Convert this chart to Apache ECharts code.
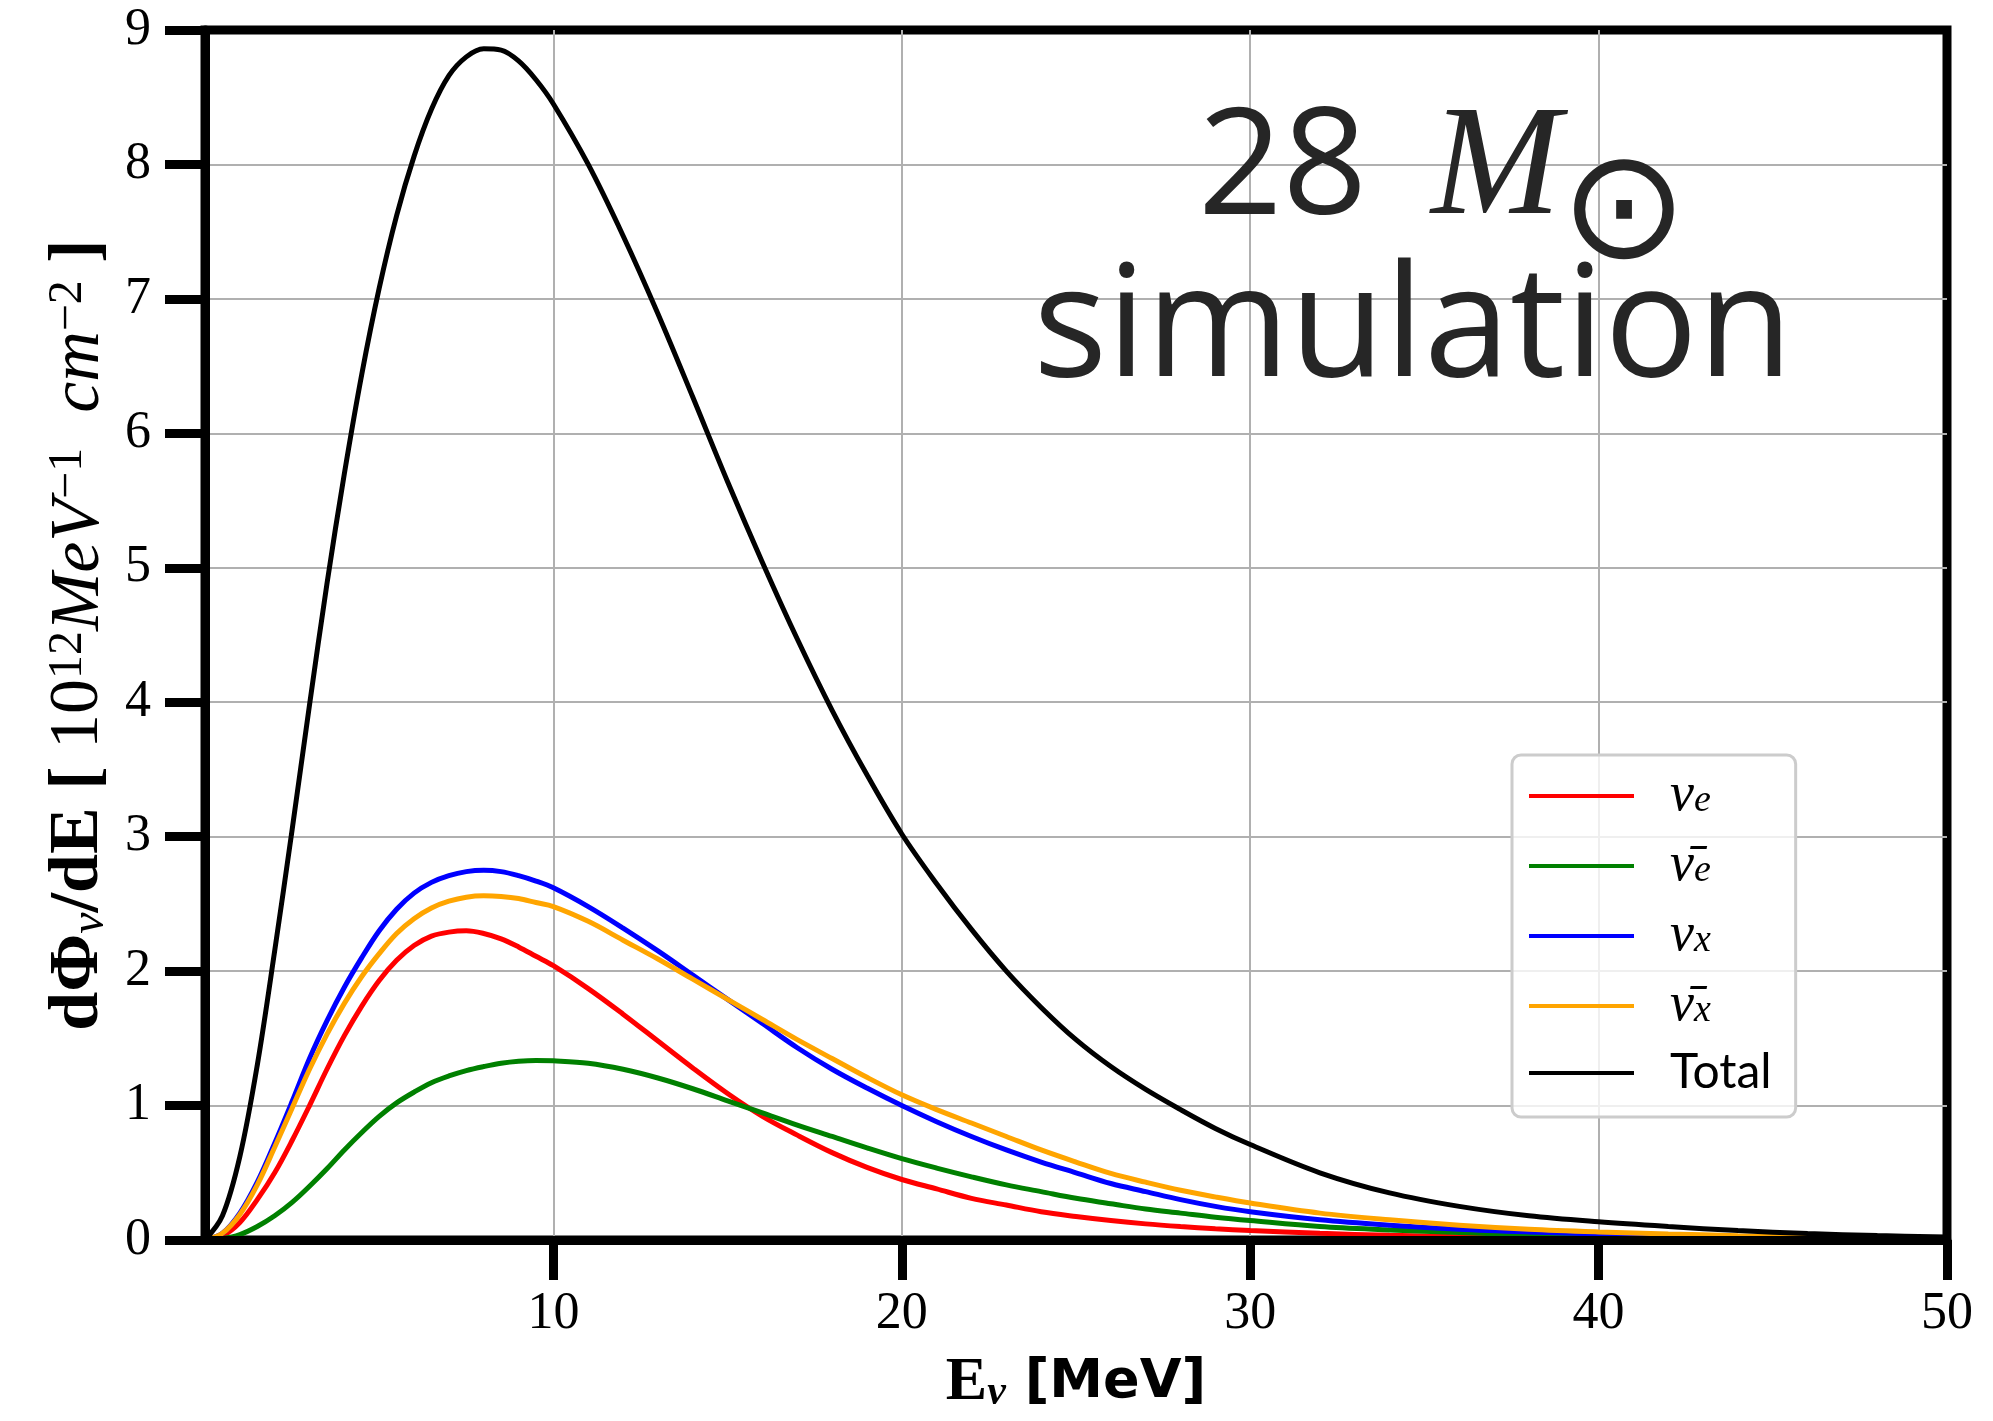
<!DOCTYPE html>
<html><head><meta charset="utf-8">
<script src="https://cdn.jsdelivr.net/npm/echarts@6/dist/echarts.min.js"></script>
<style>html,body{margin:0;padding:0;background:#fff}#c{width:1993px;height:1421px}</style>
</head><body><div id="c"></div>
<script>
// ---- data ----
const energy  = [0,0.5,1,1.5,2,2.5,3,3.5,4,4.5,5,5.5,6,6.5,7,7.5,8,8.5,9,9.5,10,
                 11,12,13,14,15,16,17,18,19,20,21,22,23,24,25,26,27,28,29,30,
                 32,34,36,38,40,42,44,46,48,50];
const nuE     = [0,0.03,0.13,0.3,0.5,0.74,1.0,1.27,1.52,1.74,1.93,2.08,2.19,2.26,2.29,2.30,2.28,2.24,2.18,2.11,2.04,
                 1.87,1.68,1.48,1.28,1.09,0.92,0.78,0.65,0.54,0.45,0.38,0.31,0.26,0.21,0.175,0.145,0.12,0.10,0.083,0.07,
                 0.05,0.035,0.025,0.017,0.012,0.008,0.005,0.003,0.002,0.001];
const nuEbar  = [0,0.01,0.04,0.1,0.18,0.28,0.4,0.53,0.67,0.8,0.92,1.02,1.1,1.17,1.22,1.26,1.29,1.315,1.33,1.336,1.333,
                 1.315,1.27,1.205,1.125,1.035,0.945,0.855,0.77,0.685,0.605,0.535,0.47,0.41,0.36,0.31,0.27,0.23,0.2,0.17,0.145,
                 0.1,0.075,0.055,0.04,0.03,0.022,0.015,0.01,0.007,0.005];
const nuX     = [0,0.05,0.2,0.43,0.72,1.03,1.35,1.63,1.88,2.1,2.3,2.46,2.58,2.66,2.71,2.74,2.75,2.74,2.71,2.67,2.62,
                 2.48,2.32,2.15,1.97,1.79,1.61,1.43,1.27,1.13,1.0,0.88,0.77,0.67,0.58,0.5,0.42,0.36,0.3,0.25,0.21,
                 0.15,0.11,0.08,0.06,0.045,0.033,0.024,0.017,0.013,0.01];
const nuXbar  = [0,0.05,0.19,0.41,0.69,0.98,1.27,1.53,1.76,1.96,2.13,2.28,2.39,2.47,2.52,2.55,2.56,2.555,2.54,2.51,2.48,
                 2.37,2.23,2.09,1.94,1.79,1.64,1.49,1.35,1.21,1.08,0.97,0.87,0.77,0.67,0.58,0.495,0.43,0.37,0.32,0.275,
                 0.2,0.15,0.11,0.08,0.06,0.045,0.032,0.022,0.015,0.01];
const total   = [0,0.18,0.62,1.3,2.15,3.05,3.98,4.88,5.7,6.44,7.08,7.62,8.06,8.41,8.66,8.8,8.86,8.85,8.77,8.63,8.45,
                 8.0,7.47,6.89,6.27,5.64,5.04,4.47,3.94,3.46,3.02,2.65,2.31,2.0,1.73,1.49,1.29,1.12,0.97,0.83,0.71,
                 0.5,0.35,0.25,0.18,0.135,0.1,0.07,0.048,0.033,0.022];

const seriesNames  = ['nu_e','nubar_e','nu_x','nubar_x','Total'];
const seriesValues = [nuE, nuEbar, nuX, nuXbar, total];
const seriesColors = ['#ff0000','#008000','#0000ff','#ffa500','#000000'];
const legendLabels = ['{v|ν}{s|e}','{v|ν̄}{s|e}','{v|ν}{s|x}','{v|ν̄}{s|x}','{t|Total}'];
const xTickValues  = [10,20,30,40,50];
const yMin = 0, yMax = 9, yStep = 1;
const xMin = 0, xMax = 50, xStep = 10;

// ---- chart ----
const serif = "'Liberation Serif','DejaVu Serif',serif";
const chart = echarts.init(document.getElementById('c'), null, {renderer:'canvas'});

const gridLine = {show:true, showMinLine:false, showMaxLine:false, lineStyle:{color:'#b0b0b0', width:2}};
const option = {
  animation:false,
  backgroundColor:'#ffffff',
  grid:{left:205, right:46, top:30, bottom:181, show:true, borderColor:'#000', borderWidth:9, backgroundColor:'rgba(0,0,0,0)'},
  xAxis:[
    {type:'value', gridIndex:0, position:'top', min:xMin, max:xMax, interval:xStep,
     axisLine:{show:false}, axisTick:{show:false}, axisLabel:{show:false}, splitLine:gridLine},
    {type:'value', gridIndex:0, position:'bottom', min:xMin, max:xMax, interval:xStep, z:5,
     axisLine:{show:true, onZero:false, lineStyle:{color:'#000', width:9}},
     axisTick:{show:true, customValues:xTickValues, length:40, lineStyle:{color:'#000', width:9}},
     axisLabel:{show:true, customValues:xTickValues, margin:48, color:'#000', fontFamily:serif, fontSize:52},
     splitLine:{show:false},
     name:'{b|E}{bs|ν}{m| [MeV]}', nameLocation:'middle', nameGap:112,
     nameTextStyle:{rich:{
       b:{fontFamily:serif, fontWeight:'bold', fontSize:62, color:'#000', lineHeight:62},
       bs:{fontFamily:serif, fontWeight:'bold', fontStyle:'italic', fontSize:42, color:'#000', verticalAlign:'bottom', lineHeight:42},
       m:{fontFamily:"'DejaVu Sans',sans-serif", fontWeight:'bold', fontSize:54, color:'#000', lineHeight:62}
     }}}
  ],
  yAxis:[
    {type:'value', gridIndex:0, position:'right', min:yMin, max:yMax, interval:yStep,
     axisLine:{show:false}, axisTick:{show:false}, axisLabel:{show:false}, splitLine:gridLine},
    {type:'value', gridIndex:0, position:'left', min:yMin, max:yMax, interval:yStep, z:5,
     axisLine:{show:true, onZero:false, lineStyle:{color:'#000', width:9}},
     axisTick:{show:true, length:40, lineStyle:{color:'#000', width:9}},
     axisLabel:{show:true, margin:54, color:'#000', fontFamily:serif, fontSize:52},
     splitLine:{show:false},
     name:'{b|dΦ}{bs|ν}{b|/dE [ }{n|10}{sup|12}{i|MeV}{sup|−1}{i|  cm}{sup|−2}{b| ]}',
     nameLocation:'middle', nameRotate:90, nameGap:76,
     nameTextStyle:{rich:{
       b:{fontFamily:serif, fontWeight:'bold', fontSize:70, color:'#000', lineHeight:70},
       bs:{fontFamily:serif, fontStyle:'italic', fontSize:48, color:'#000', verticalAlign:'bottom', lineHeight:46},
       n:{fontFamily:serif, fontSize:70, color:'#000', lineHeight:70},
       i:{fontFamily:serif, fontStyle:'italic', fontSize:70, color:'#000', lineHeight:70},
       sup:{fontFamily:serif, fontSize:48, color:'#000', verticalAlign:'top', lineHeight:46}
     }}}
  ],
  legend:{
    orient:'vertical', left:1512, top:755,
    data:seriesNames,
    icon:'rect',
    itemWidth:105, itemHeight:4, itemGap:16,
    padding:[14,24,20,17],
    backgroundColor:'rgba(255,255,255,0.8)',
    borderColor:'#cccccc', borderWidth:3, borderRadius:9,
    formatter:function(name){ return legendLabels[seriesNames.indexOf(name)]; },
    textStyle:{padding:[0,0,0,31], rich:{
      v:{fontFamily:serif, fontStyle:'italic', fontSize:54, color:'#000', lineHeight:48},
      s:{fontFamily:serif, fontStyle:'italic', fontSize:38, color:'#000', verticalAlign:'bottom', lineHeight:34},
      t:{fontFamily:"Lato,'DejaVu Sans',sans-serif", fontSize:48, color:'#000', lineHeight:48}
    }}
  },
  series: seriesNames.map(function(n,k){
    return {
      name:n, type:'line', xAxisIndex:0, yAxisIndex:0,
      data: energy.map(function(e,i){ return [e, seriesValues[k][i]]; }),
      symbol:'none', smooth:0.35, clip:true, z:2,
      lineStyle:{color:seriesColors[k], width:5},
      itemStyle:{color:seriesColors[k]}
    };
  }),
  graphic:[
    {type:'text', x:1198, y:172, z:10, style:{text:'28', fill:'#262626', font:"148px 'Open Sans'", align:'left', verticalAlign:'middle'}},
    {type:'text', x:1496, y:172, z:10, style:{text:'M', fill:'#262626', font:"italic 156px 'Liberation Serif'", align:'center', verticalAlign:'middle'}},
    {type:'text', x:1624, y:218, z:10, style:{text:'⊙', fill:'#262626', font:"152px 'DejaVu Sans'", align:'center', verticalAlign:'middle'}},
    {type:'text', x:1413, y:332, z:10, style:{text:'simulation', fill:'#262626', font:"155px 'Open Sans'", align:'center', verticalAlign:'middle'}}
  ]
};
chart.setOption(option);
</script>
</body></html>
